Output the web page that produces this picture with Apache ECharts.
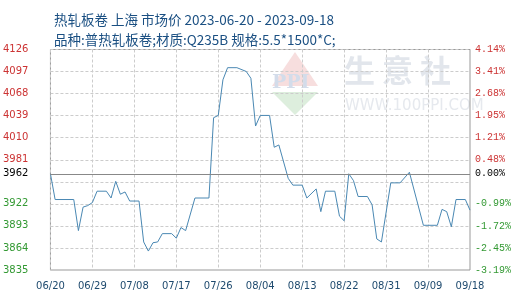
<!DOCTYPE html>
<html>
<head>
<meta charset="utf-8">
<script src="https://cdn.jsdelivr.net/npm/echarts@6/dist/echarts.min.js"></script>
<style>html,body{margin:0;padding:0;background:#fff;}#c{width:520px;height:300px;}</style>
</head>
<body>
<div id="c"></div>
<script>
const titleLine1 = '热轧板卷 上海 市场价 2023-06-20 - 2023-09-18';
const titleLine2 = '品种:普热轧板卷;材质:Q235B 规格:5.5*1500*C;';
const baseValue = 3962;
const baseLabelLeft = '3962';
const baseLabelRight = '0.00%';
const yMin = 3835;
const yMax = 4126;
const leftTickLabels = ['3835','3864','3893','3922','','3981','4010','4039','4068','4097','4126'];
const rightTickLabels = ['-3.19%','-2.45%','-1.72%','-0.99%','','0.48%','1.21%','1.95%','2.68%','3.41%','4.14%'];
const dates = [
 '06/20','06/21','06/22','06/23','06/24','06/25','06/26','06/27','06/28','06/29','06/30',
 '07/01','07/02','07/03','07/04','07/05','07/06','07/07','07/08','07/09','07/10',
 '07/11','07/12','07/13','07/14','07/15','07/16','07/17','07/18','07/19','07/20',
 '07/21','07/22','07/23','07/24','07/25','07/26','07/27','07/28','07/29','07/30','07/31',
 '08/01','08/02','08/03','08/04','08/05','08/06','08/07','08/08','08/09','08/10',
 '08/11','08/12','08/13','08/14','08/15','08/16','08/17','08/18','08/19','08/20',
 '08/21','08/22','08/23','08/24','08/25','08/26','08/27','08/28','08/29','08/30','08/31',
 '09/01','09/02','09/03','09/04','09/05','09/06','09/07','09/08','09/09','09/10',
 '09/11','09/12','09/13','09/14','09/15','09/16','09/17','09/18'
];
const prices = [
 3962,3928,null,null,null,3928,3887,3918,3920,3924,3939,
 null,3939,3930,3952,3935,3938,3926,null,3926,3872,
 3860,3871,3872,3883,null,3883,3877,3891,3887,null,
 3930,null,null,3930,4036,4039,4086,4102,null,4102,null,
 4097,4088,4025,4039,null,4039,3997,4000,null,3956,
 3947,null,3947,3930,null,3942,3912,3939,null,3939,
 3906,3900,3962,3953,3932,null,3932,3921,3876,3872,null,
 3950,null,3950,null,3964,null,null,3894,null,null,
 3894,3915,3912,3892,3928,null,3928,3914
];

const red = '#cc3333', green = '#339933', black = '#000';
function labelColor(i){ return i > 4 ? red : (i < 4 ? green : black); }

const chart = echarts.init(document.getElementById('c'), null, {renderer:'canvas'});
chart.setOption({
  animation: false,
  backgroundColor: '#fff',
  title: {
    text: titleLine1 + '\n' + titleLine2,
    left: 49, top: 5,
    textStyle: {fontFamily: '"Noto Sans CJK SC"', fontSize: 13.5, fontWeight: 'normal', color: '#1a4f82', lineHeight: 20}
  },
  graphic: [
    {type:'polygon', silent:true, z:-1, shape:{points:[[295,52],[272,86],[318,86]]}, style:{fill:'#f7dede'}},
    {type:'polygon', silent:true, z:-1, shape:{points:[[272,92],[318,92],[295,115]]}, style:{fill:'#ddeedd'}},
    {type:'text', silent:true, z:-1, left:272, top:74, style:{text:'PPI', font:'bold 19px "DejaVu Serif"', fill:'#d3dcea'}},
    {type:'text', silent:true, z:-1, left:344, top:55, style:{text:'生 意 社', font:'bold 31px "Noto Sans CJK SC"', fill:'#e2e6ec'}},
    {type:'text', silent:true, z:-1, left:345, top:99, style:{text:'WWW.100PPI.COM', font:'15px "DejaVu Sans"', fill:'#e6e9ee'}}
  ],
  grid: {left: 50, right: 50, top: 49.5, bottom: 30, show: true, borderColor: '#999', borderWidth: 1, backgroundColor: 'transparent'},
  xAxis: {
    type: 'category', data: dates, boundaryGap: false,
    axisLine: {show: false}, axisTick: {show: false},
    axisLabel: {interval: 8, color: '#1e4a6e', fontFamily: '"DejaVu Sans"', fontSize: 10, margin: 11},
    splitLine: {show: true, interval: 8, lineStyle: {color: '#cccccc', type: [3,2]}}
  },
  yAxis: [
    {
      type: 'value', position: 'left', min: 0, max: 10, interval: 1,
      axisLine: {show: false}, axisTick: {show: false},
      axisLabel: {
        margin: 22, fontFamily: '"DejaVu Sans"', fontSize: 10,
        formatter: function(v, i){ return leftTickLabels[Math.round(v)]; },
        color: function(v){ return labelColor(Math.round(v)); }
      },
      splitLine: {show: true, lineStyle: {color: '#cccccc', type: [3,2]}}
    },
    {
      type: 'value', position: 'right', min: 0, max: 10, interval: 1,
      axisLine: {show: false}, axisTick: {show: false},
      axisLabel: {
        margin: 5, fontFamily: '"Liberation Mono"', fontSize: 10,
        formatter: function(v){ return rightTickLabels[Math.round(v)]; },
        color: function(v){ return labelColor(Math.round(v)); }
      },
      splitLine: {show: false}
    },
    {type: 'value', show: false, min: yMin, max: yMax, position: 'left'}
  ],
  series: [{
    type: 'line', yAxisIndex: 2, data: prices, connectNulls: true,
    showSymbol: false, symbol: 'none',
    lineStyle: {color: '#4a88b3', width: 1},
    markLine: {
      silent: true, symbol: 'none', animation: false,
      lineStyle: {color: '#888', type: 'solid', width: 1},
      data: [
        {yAxis: baseValue, label: {show: true, position: 'start', distance: 22, formatter: baseLabelLeft, color: black, fontFamily: '"DejaVu Sans"', fontSize: 10}},
        {yAxis: baseValue, label: {show: true, position: 'end', distance: 5, formatter: baseLabelRight, color: black, fontFamily: '"Liberation Mono"', fontSize: 10}}
      ]
    }
  }]
});
</script>
</body>
</html>
